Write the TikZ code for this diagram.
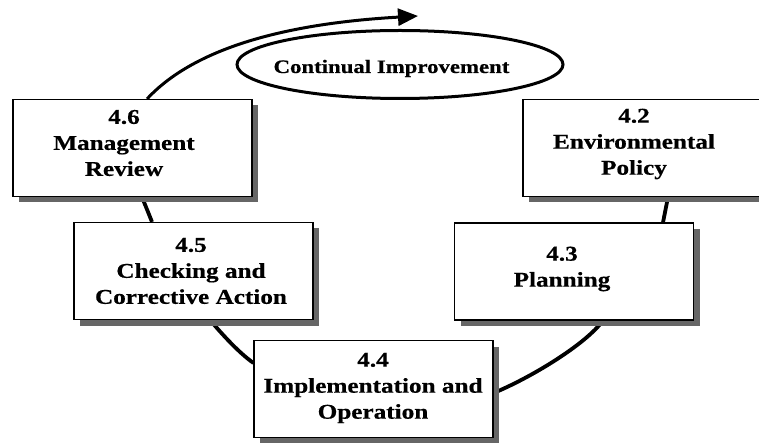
\documentclass[tikz,border=0pt]{standalone}
\usepackage{fontspec}
\newfontfamily\lbl{Liberation Serif}[FakeStretch=1.2, FakeBold=0.6]
\usetikzlibrary{arrows.meta,shapes.geometric,shadows,backgrounds}
\begin{document}
\begin{tikzpicture}[x=1pt,y=-1pt,
  stage/.style={draw=black, line width=1.1pt, fill=white, inner sep=0pt,
    minimum width=239pt, minimum height=97pt,
    drop shadow={shadow xshift=6pt, shadow yshift=-6pt, fill=black!60, opacity=1}},
  stagetext/.style={font=\lbl\bfseries\fontsize{21}{26}\selectfont, align=center, inner sep=0pt},
  link/.style={line width=3.8pt},
  loopline/.style={line width=3pt},
]
\useasboundingbox (0,0) rectangle (759,443);

% the five stages of the cycle
\node[stage] (b46) at (132.5,148) {};
\node[stage] (b42) at (642.5,148) {};
\node[stage] (b45) at (193.5,271) {};
\node[stage] (b43) at (574,271.5) {};
\node[stage] (b44) at (373.5,389) {};

\node[stagetext] (t46) at (124,143) {4.6\\Management\\Review};
\node[stagetext] (t42) at (634,144) {4.2\\Environmental\\Policy};
\node[stagetext] (t45) at (191,271) {4.5\\Checking and\\Corrective Action};
\node[stagetext] (t43) at (562,269) {4.3\\Planning};
\node[stagetext] (t44) at (373,388) {4.4\\Implementation and\\Operation};

% connectors around the cycle, running under the boxes and their shadows
\begin{scope}[on background layer]
\draw[link] ([xshift=9.5pt]b46.south) -- ([xshift=-41.5pt]b45.north);
\draw[link] ([xshift=16.5pt]b45.south) .. controls (222,334) and (238,352) .. ([yshift=26pt]b44.west);
\draw[link] ([yshift=-4pt]b44.east) .. controls (530,378) and (585,345) .. ([xshift=29pt]b43.south);
\draw[link] ([xshift=89pt]b43.north) -- ([xshift=25.5pt]b42.south);
\end{scope}

% continual improvement loop
\node[ellipse, draw, loopline, minimum width=326pt, minimum height=68pt, inner sep=0pt] (ci) at (400,64.5) {};
\node[font=\lbl\bfseries\fontsize{19}{23}\selectfont, anchor=base, inner sep=0pt] (cit) at (391.5,73) {Continual Improvement};
\coordinate (tip) at (418,16);
\draw[loopline, -{Triangle[length=20pt,width=17pt]}] ([xshift=14.5pt]b46.north) .. controls (185,58) and (260,25) .. (tip);
\end{tikzpicture}
\end{document}
